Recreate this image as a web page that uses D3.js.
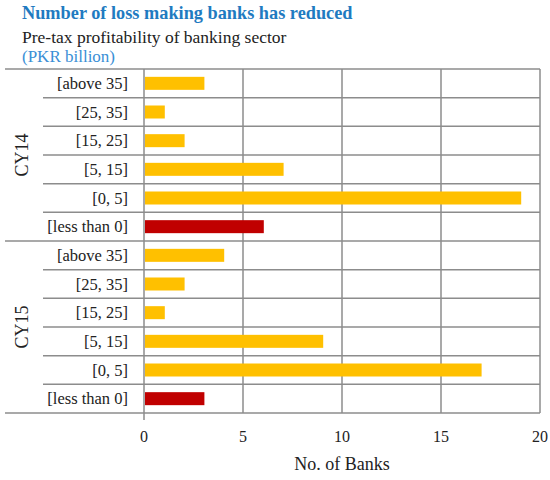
<!DOCTYPE html>
<html>
<head>
<meta charset="utf-8">
<script src="https://cdn.jsdelivr.net/npm/d3@7"></script>
<style>
  body { margin: 0; background: #fff; }
  svg text { font-family: "Liberation Serif", "DejaVu Serif", serif; }
</style>
</head>
<body>
<div id="plot"></div>
<script>
// Chart data.
var groups = ["CY14", "CY15"];
var buckets = ["[above 35]", "[25, 35]", "[15, 25]", "[5, 15]", "[0, 5]", "[less than 0]"];
var cy14_values = [3, 1, 2, 7, 19, 6];
var cy15_values = [4, 2, 1, 9, 17, 3];
var x_ticks = [0, 5, 10, 15, 20];

var width = 550, height = 480;
var plot_left = 144, plot_right = 540, plot_top = 69, plot_bottom = 413;

var svg = d3.select("div#plot").append("svg")
    .attr("width", width)
    .attr("height", height);

// Flattening the two groups into one list of rows.
var rows = [];
groups.forEach(function(g, gi) {
    var vals = gi == 0 ? cy14_values : cy15_values;
    buckets.forEach(function(b, i) {
        rows.push({ key: g + "|" + b, group: g, bucket: b, value: vals[i], loss: b == "[less than 0]" });
    });
});

var x_scale = d3.scaleLinear().domain([0, 20]).range([plot_left, plot_right]);
var y_scale = d3.scaleBand().domain(rows.map(d => d.key)).range([plot_top, plot_bottom]);
var bw = y_scale.bandwidth();

var grid = "#8c8c8c";

// Vertical grid lines.
svg.append("g")
    .selectAll("line")
    .data(x_ticks)
    .join("line")
        .attr("x1", d => x_scale(d))
        .attr("x2", d => x_scale(d))
        .attr("y1", plot_top)
        .attr("y2", d => d == 0 ? plot_bottom + 7 : plot_bottom)
        .style("stroke", grid)
        .style("stroke-width", 1.5);

// Horizontal row separators; group borders run further left.
var seps = d3.range(rows.length + 1);
svg.append("g")
    .selectAll("line")
    .data(seps)
    .join("line")
        .attr("x1", d => d % buckets.length == 0 ? 5 : 43)
        .attr("x2", plot_right)
        .attr("y1", d => plot_top + d * bw)
        .attr("y2", d => plot_top + d * bw)
        .style("stroke", grid)
        .style("stroke-width", 1.5);

// Bars.
var bar_h = 13;
svg.append("g")
    .selectAll("rect")
    .data(rows)
    .join("rect")
        .attr("x", x_scale(0) + 1)
        .attr("y", d => y_scale(d.key) + (bw - bar_h) / 2)
        .attr("width", d => x_scale(d.value) - x_scale(0))
        .attr("height", bar_h)
        .style("fill", d => d.loss ? "#c00000" : "#ffc000");

// Row labels.
svg.append("g")
    .selectAll("text")
    .data(rows)
    .join("text")
        .attr("x", 128)
        .attr("y", d => y_scale(d.key) + bw / 2)
        .attr("dy", "0.35em")
        .attr("text-anchor", "end")
        .style("font-size", "16.5px")
        .style("fill", "#222")
        .text(d => d.bucket);

// Group labels, rotated.
svg.append("g")
    .selectAll("text")
    .data(groups)
    .join("text")
        .attr("transform", function(d, i) {
            var cy = plot_top + (i * buckets.length + buckets.length / 2) * bw;
            return "translate(22," + cy + ") rotate(-90)";
        })
        .attr("dy", "0.35em")
        .attr("text-anchor", "middle")
        .style("font-size", "18px")
        .style("fill", "#222")
        .text(d => d);

// X tick labels.
svg.append("g")
    .selectAll("text")
    .data(x_ticks)
    .join("text")
        .attr("x", d => x_scale(d))
        .attr("y", 442)
        .attr("text-anchor", "middle")
        .style("font-size", "16px")
        .style("fill", "#222")
        .text(d => d);

svg.append("text")
    .attr("x", (plot_left + plot_right) / 2)
    .attr("y", 470)
    .attr("text-anchor", "middle")
    .style("font-size", "18px")
    .style("fill", "#222")
    .text("No. of Banks");

// Titles.
svg.append("text")
    .attr("x", 22)
    .attr("y", 19)
    .style("font-size", "18.3px")
    .style("font-weight", "bold")
    .style("fill", "#1f7bc1")
    .text("Number of loss making banks has reduced");

svg.append("text")
    .attr("x", 22)
    .attr("y", 43)
    .style("font-size", "17.5px")
    .style("fill", "#222")
    .text("Pre-tax profitability of banking sector");

svg.append("text")
    .attr("x", 22)
    .attr("y", 62)
    .style("font-size", "17px")
    .style("fill", "#3a8fd6")
    .text("(PKR billion)");
</script>
</body>
</html>
